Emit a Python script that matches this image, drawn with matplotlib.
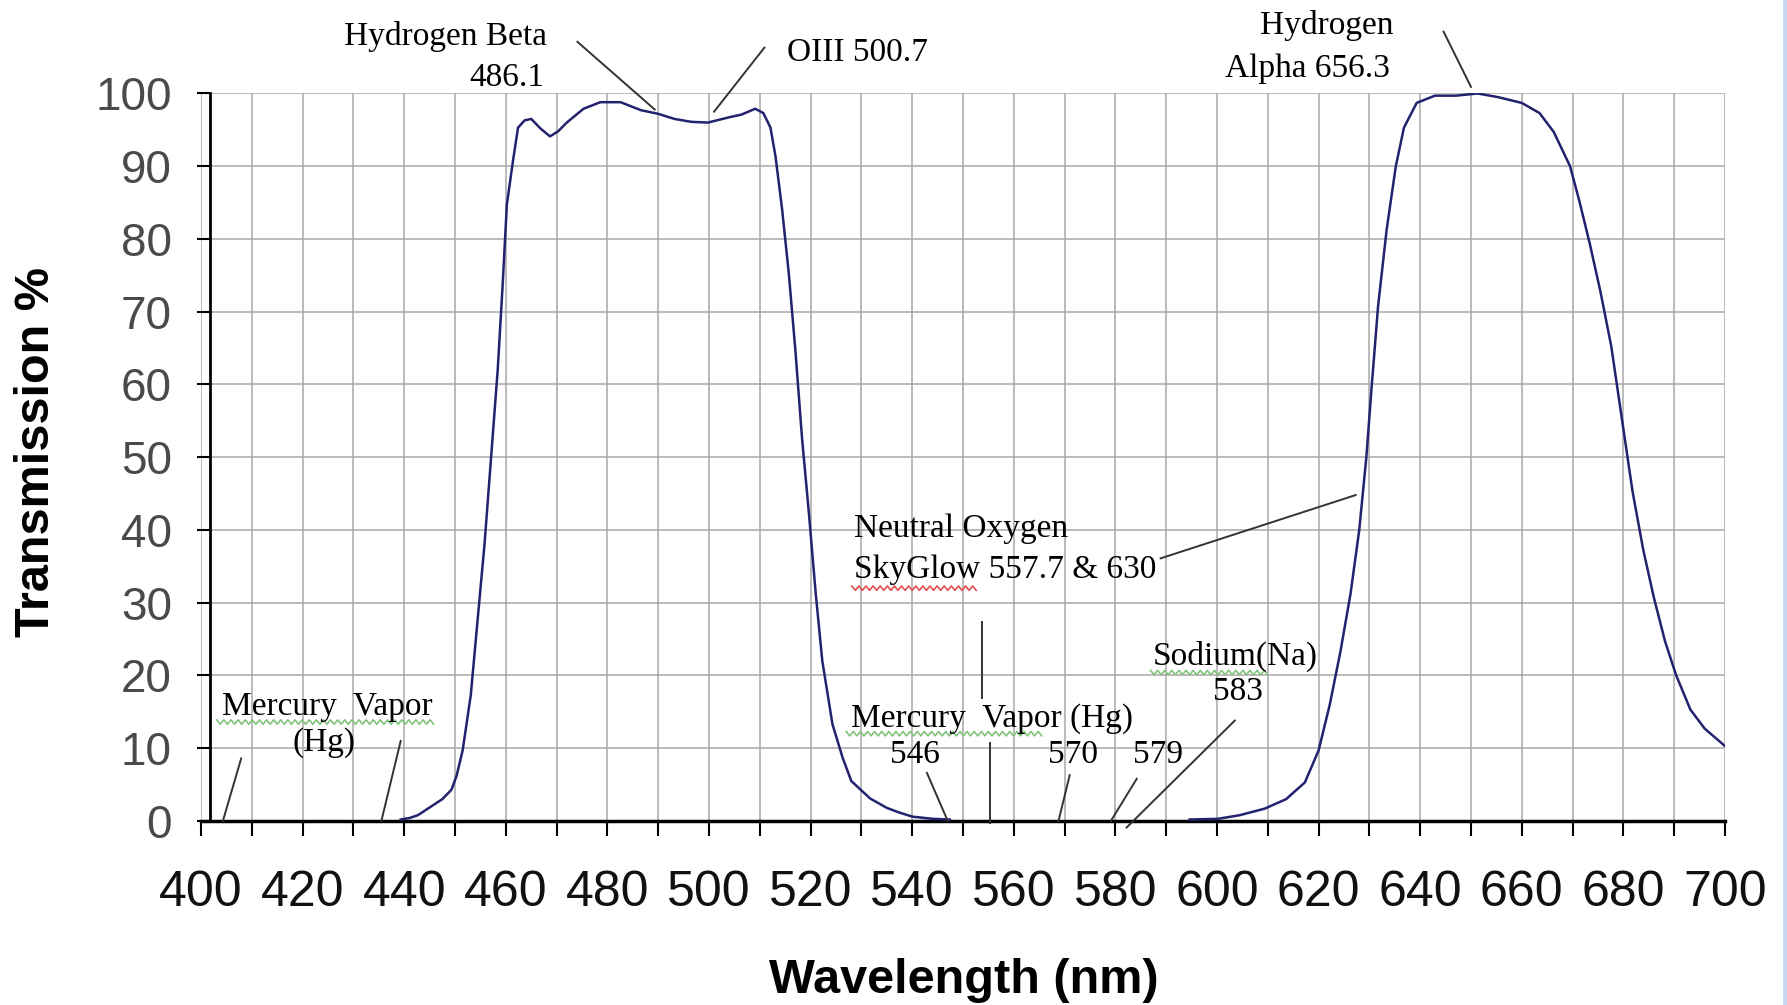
import numpy as np
import matplotlib
matplotlib.use("Agg")
import matplotlib.pyplot as plt
from matplotlib.patches import Rectangle

# filter transmission curve (wavelength nm, transmission %)
band1_nm = [439.3, 441.0, 442.7, 445.3, 447.5, 449.3, 450.3, 451.5, 453.1, 454.4,
            455.8, 457.1, 458.4, 459.4, 460.2, 461.4, 462.4, 463.7, 465.0, 466.8,
            468.7, 470.3, 472.0, 475.3, 478.6, 482.6, 486.6, 490.0, 493.2, 496.5,
            499.8, 503.8, 506.4, 509.1, 510.7, 512.1, 513.1, 514.4, 515.7, 517.0,
            518.3, 519.7, 521.0, 522.3, 524.3, 526.3, 528.0, 531.7, 535.0, 537.3,
            540.0, 544.0, 547.4]
band1_pct = [0.2, 0.4, 0.8, 2.0, 3.0, 4.3, 6.2, 9.7, 17.3, 27.3,
             38.0, 50.0, 62.0, 74.0, 84.7, 90.7, 95.3, 96.3, 96.5, 95.2,
             94.1, 94.8, 96.0, 97.9, 98.8, 98.8, 97.7, 97.2, 96.5, 96.1,
             96.0, 96.7, 97.1, 97.9, 97.3, 95.3, 91.3, 84.0, 75.3, 64.7,
             52.7, 42.0, 31.3, 22.0, 13.3, 8.7, 5.5, 3.1, 1.8, 1.2,
             0.6, 0.3, 0.2]

band2_nm = [594.6, 600.2, 604.5, 609.4, 613.6, 617.3, 620.0, 622.2, 624.3, 626.3,
            628.0, 629.4, 630.4, 631.7, 633.4, 635.2, 636.8, 639.3, 642.9, 647.1,
            651.3, 655.3, 660.0, 663.5, 666.3, 669.5, 671.3, 673.4, 675.5, 677.6,
            679.7, 681.8, 683.9, 686.0, 688.2, 690.4, 693.2, 696.0, 700.0]
band2_pct = [0.2, 0.3, 0.8, 1.7, 3.0, 5.3, 9.7, 16.0, 23.3, 31.3,
             40.0, 50.0, 59.3, 70.7, 81.3, 90.0, 95.3, 98.7, 99.7, 99.7,
             100.0, 99.5, 98.7, 97.3, 94.7, 90.0, 85.3, 79.3, 72.7, 65.3,
             55.3, 45.3, 37.3, 30.7, 24.7, 20.0, 15.3, 12.7, 10.3]

x_ticks = list(range(400, 701, 20))
x_minor = list(range(400, 701, 10))
y_ticks = list(range(0, 101, 10))

# emission line labels (text, centre in nm, centre in %)
label_text = ["Hydrogen Beta", "486.1", "OIII 500.7", "Hydrogen", "Alpha 656.3",
              "Neutral Oxygen", "SkyGlow 557.7 & 630", "Mercury  Vapor", "(Hg)",
              "Mercury  Vapor (Hg)", "546", "570", "579", "Sodium(Na)", "583"]
label_x = [448.2, 460.3, 529.3, 621.6, 617.8,
           549.6, 558.3, 424.8, 424.3,
           555.7, 540.6, 571.7, 588.4, 603.5, 604.1]
label_y = [107.8, 102.2, 105.6, 109.4, 103.4,
           40.1, 34.5, 15.7, 10.8,
           14.1, 9.1, 9.1, 9.1, 22.6, 17.7]

# leader lines from labels to the lines
leader_x0 = [474.1, 510.9, 644.6, 588.9, 553.7, 407.9, 439.3, 542.9, 555.3, 571.0, 584.2, 603.5]
leader_y0 = [107.1, 106.3, 108.5, 36.1, 27.4, 8.6, 11.0, 6.6, 10.7, 6.3, 5.8, 13.8]
leader_x1 = [489.3, 501.0, 650.0, 627.3, 553.7, 404.3, 435.5, 547.0, 555.3, 568.8, 579.1, 582.2]
leader_y1 = [97.8, 97.5, 100.9, 44.8, 16.9, 0.0, 0.0, 0.0, -0.3, 0.0, 0.0, -0.9]

# spell-check squiggles seen in the scan
squig_x0 = [403.1, 527.0, 528.1, 586.9]
squig_x1 = [446.5, 565.9, 553.3, 610.5]
squig_y = [13.6, 12.0, 32.0, 20.4]
squig_col = ["#7fc47f", "#7fc47f", "#e05050", "#7fc47f"]

fig = plt.figure(figsize=(17.87, 10.05), dpi=100)
ax = fig.add_axes([0.1125, 0.1831, 0.8528, 0.7239])

ax.plot(band1_nm, band1_pct, color="#22226e", lw=1.8, zorder=3)
ax.plot(band2_nm, band2_pct, color="#22226e", lw=1.8, zorder=3)

ax.set_xlim(400, 700)
ax.set_ylim(0, 100)
ax.set_xticks(x_ticks)
ax.set_xticks(x_minor, minor=True)
ax.set_yticks(y_ticks)
ax.grid(which="both", color="#a8a8a8", lw=1.1)
ax.set_axisbelow(True)

for side in ["top", "right"]:
    ax.spines[side].set_visible(False)
ax.spines["left"].set_position(("data", 401.8))
ax.spines["left"].set_linewidth(2)
ax.spines["bottom"].set_linewidth(2.5)

ax.tick_params(axis="x", which="both", direction="out", length=11, width=1.5, color="black")
ax.tick_params(axis="x", which="major", pad=24, labelsize=36, labelcolor="#111111")
ax.tick_params(axis="y", direction="out", length=9.5, width=1.5, pad=18,
               labelsize=33, labelcolor="#4a4a4a")
for lbl in ax.get_xticklabels():
    lbl.set_fontfamily("Liberation Sans")
for lbl in ax.get_yticklabels():
    lbl.set_fontfamily("Liberation Sans")

for s, x, y in zip(label_text, label_x, label_y):
    ax.text(x, y, s, ha="center", va="center", fontsize=24,
            family="Liberation Serif", color="black", clip_on=False, zorder=5)

for x0, y0, x1, y1 in zip(leader_x0, leader_y0, leader_x1, leader_y1):
    ax.plot([x0, x1], [y0, y1], color="#333333", lw=1.4, clip_on=False, zorder=4)

for x0, x1, y, c in zip(squig_x0, squig_x1, squig_y, squig_col):
    xs = np.arange(x0, x1, 0.7)
    ys = y + 0.3 * (-1) ** np.arange(len(xs))
    ax.plot(xs, ys, color=c, lw=1.2, zorder=4)

fig.text(0.0204, 0.55, "Transmission %", rotation=90, ha="center", va="center",
         fontsize=35, fontweight="bold", family="Liberation Sans")
fig.text(0.5395, 0.024, "Wavelength (nm)", ha="center", va="center",
         fontsize=35, fontweight="bold", family="Liberation Sans")

fig.add_artist(Rectangle((1783 / 1787, 0), 4 / 1787, 1, transform=fig.transFigure,
                         color="#c6d9f0", lw=0))

fig.savefig("out.png", dpi=100)
